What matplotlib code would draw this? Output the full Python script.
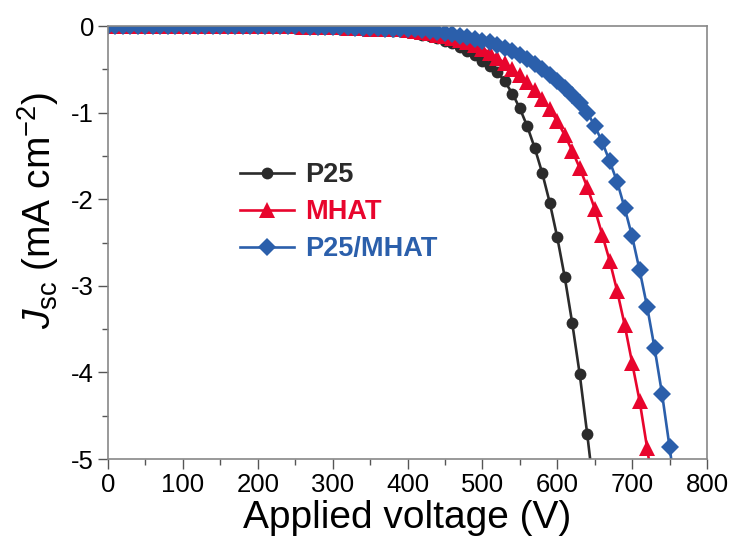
import numpy as np
import matplotlib
matplotlib.use("Agg")
import matplotlib.pyplot as plt
from matplotlib.ticker import MultipleLocator

plt.rcParams['font.family'] = ['Liberation Sans', 'DejaVu Sans']
plt.rcParams['mathtext.fontset'] = 'custom'
plt.rcParams['mathtext.rm'] = 'Liberation Sans'
plt.rcParams['mathtext.it'] = 'Liberation Sans:italic'
plt.rcParams['axes.unicode_minus'] = False

# ---- data ----
v_p25 = list(range(0, 660, 10))
j_p25 = [0.00, 0.00, 0.00, 0.00, 0.00, 0.00, 0.00, 0.00, 0.00, 0.00,
         0.00, 0.00, 0.00, 0.00, 0.00, -0.01, -0.01, -0.01, -0.01, -0.01,
         -0.01, -0.01, -0.01, -0.01, -0.01, -0.01, -0.02, -0.02, -0.02, -0.02,
         -0.02, -0.03, -0.03, -0.03, -0.04, -0.04, -0.05, -0.05, -0.06, -0.06,
         -0.07, -0.08, -0.10, -0.12, -0.14, -0.17, -0.20, -0.24, -0.29, -0.34,
         -0.40, -0.46, -0.53, -0.64, -0.78, -0.95, -1.16, -1.41, -1.70, -2.04,
         -2.44, -2.90, -3.43, -4.02, -4.71, -5.45]

v_mhat = list(range(0, 740, 10))
j_mhat = [0.00, 0.00, 0.00, 0.00, 0.00, 0.00, 0.00, 0.00, 0.00, 0.00,
          0.00, 0.00, 0.00, 0.00, 0.00, 0.00, 0.00, 0.00, 0.00, 0.00,
          0.00, 0.00, 0.00, 0.00, 0.00, 0.00, -0.01, -0.01, -0.01, -0.01,
          -0.01, -0.01, -0.02, -0.02, -0.02, -0.03, -0.03, -0.03, -0.04, -0.04,
          -0.05, -0.06, -0.07, -0.08, -0.10, -0.12, -0.14, -0.16, -0.19, -0.22,
          -0.26, -0.31, -0.37, -0.43, -0.50, -0.57, -0.65, -0.74, -0.84, -0.96,
          -1.10, -1.26, -1.44, -1.64, -1.86, -2.11, -2.41, -2.71, -3.06, -3.45,
          -3.89, -4.33, -4.87, -5.45]

v_mix = list(range(0, 770, 10))
j_mix = [0.00, 0.00, 0.00, 0.00, 0.00, 0.00, 0.00, 0.00, 0.00, 0.00,
         0.00, 0.00, 0.00, 0.00, 0.00, 0.00, 0.00, 0.00, 0.00, 0.00,
         0.00, 0.00, 0.00, 0.00, 0.00, 0.00, 0.00, -0.01, -0.01, -0.01,
         -0.01, -0.01, -0.01, -0.02, -0.02, -0.02, -0.02, -0.03, -0.03, -0.03,
         -0.04, -0.04, -0.05, -0.06, -0.07, -0.08, -0.09, -0.11, -0.13, -0.15,
         -0.17, -0.19, -0.22, -0.25, -0.29, -0.33, -0.38, -0.44, -0.50, -0.57,
         -0.64, -0.72, -0.80, -0.89, -1.00, -1.15, -1.34, -1.56, -1.80, -2.10,
         -2.43, -2.82, -3.24, -3.72, -4.25, -4.86, -5.50]

labels = ["P25", "MHAT", "P25/MHAT"]
colors = ["#2b2b2b", "#e8052d", "#2b5fab"]
markers = ["o", "^", "D"]
msizes = [8.5, 11, 9]

fig = plt.figure(figsize=(7.35, 5.45), dpi=100)
ax = fig.add_axes([108/735, 1-459/545, (707-108)/735, (459-26)/545])

series = [(v_p25, j_p25), (v_mhat, j_mhat), (v_mix, j_mix)]
for (v, j), lab, c, m, ms in zip(series, labels, colors, markers, msizes):
    ax.plot(v, j, color=c, marker=m, markersize=ms, lw=1.9, label=lab,
            markeredgewidth=0)

ax.set_xlim(0, 800)
ax.set_ylim(-5, 0)
ax.xaxis.set_major_locator(MultipleLocator(100))
ax.xaxis.set_minor_locator(MultipleLocator(50))
ax.yaxis.set_major_locator(MultipleLocator(1))
ax.yaxis.set_minor_locator(MultipleLocator(0.5))
ax.tick_params(which='both', direction='out', color='#555555', width=1)
ax.tick_params(which='major', length=7, labelsize=18.5, pad=3)
ax.tick_params(which='minor', length=4)
for s in ax.spines.values():
    s.set_color('#888888')
    s.set_linewidth(1.2)

ax.set_xlabel("Applied voltage (V)", fontsize=28, labelpad=2)
ax.set_ylabel(r"$\mathit{J}_{\mathrm{sc}}$ (mA cm$^{-2}$)", fontsize=28)
ax.yaxis.set_label_coords(-0.078, 0.575)

leg = ax.legend(loc='upper left', bbox_to_anchor=(0.22, 0.685), frameon=False,
                prop={'weight': 'bold', 'size': 19.5}, handlelength=2.0,
                handletextpad=0.4, labelspacing=0.4, borderpad=0,
                borderaxespad=0)
for t, c in zip(leg.get_texts(), colors):
    t.set_color(c)

fig.savefig("out.png", dpi=100)
